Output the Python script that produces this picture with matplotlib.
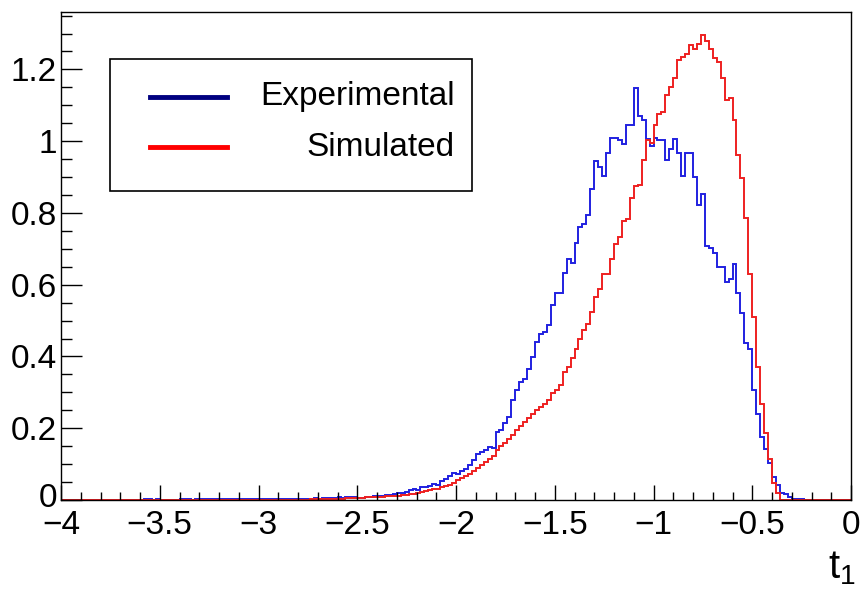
import matplotlib
matplotlib.use('Agg')
import matplotlib.pyplot as plt
import matplotlib.transforms as mtransforms
import numpy as np
from matplotlib.patches import Rectangle
from matplotlib.lines import Line2D
from matplotlib.ticker import MultipleLocator

plt.rcParams['font.family'] = ['Liberation Sans', 'DejaVu Sans']
plt.rcParams['mathtext.default'] = 'regular'

# histogram range: 200 bins of width 0.02 on [-4, 0]
x_lo, x_hi, n_bins = -4.0, 0.0, 200

# Experimental (blue), bins 0..199
experimental = [
    0, 0, 0, 0, 0, 0, 0, 0, 0, 0,
    0, 0, 0, 0, 0, 0, 0, 0, 0, 0.001,
    0.001, 0.002, 0.002, 0.001, 0.002, 0.001, 0.001, 0, 0.001, 0.001,
    0.002, 0.002, 0.002, 0.001, 0.002, 0.002, 0.002, 0.003, 0.003, 0.002,
    0.002, 0.003, 0.003, 0.003, 0.002, 0.002, 0.003, 0.003, 0.003, 0.003,
    0.002, 0.003, 0.002, 0.003, 0.003, 0.003, 0.003, 0.004, 0.004, 0.003,
    0.003, 0.004, 0.004, 0.004, 0.005, 0.004, 0.005, 0.006, 0.006, 0.006,
    0.007, 0.006, 0.008, 0.009, 0.008, 0.006, 0.006, 0.009, 0.009, 0.010,
    0.011, 0.011, 0.014, 0.014, 0.018, 0.020, 0.020, 0.021, 0.028, 0.032,
    0.029, 0.035, 0.035, 0.040, 0.045, 0.043, 0.052, 0.058, 0.066, 0.074,
    0.072, 0.082, 0.087, 0.097, 0.112, 0.128, 0.135, 0.140, 0.148, 0.145,
    0.190, 0.195, 0.215, 0.230, 0.280, 0.306, 0.330, 0.336, 0.364, 0.399,
    0.441, 0.464, 0.469, 0.487, 0.543, 0.577, 0.578, 0.633, 0.673, 0.661,
    0.715, 0.761, 0.769, 0.794, 0.867, 0.946, 0.929, 0.902, 0.966, 1.008,
    1.008, 1.003, 0.993, 1.045, 1.045, 1.149, 1.070, 1.060, 1.007, 0.987,
    1.010, 1.004, 1.004, 0.947, 0.978, 1.005, 0.966, 0.903, 0.966, 0.968,
    0.899, 0.822, 0.854, 0.708, 0.703, 0.689, 0.648, 0.648, 0.608, 0.615,
    0.659, 0.576, 0.520, 0.438, 0.422, 0.306, 0.241, 0.175, 0.141, 0.104,
    0.063, 0.041, 0.020, 0.016, 0.009, 0.003, 0.003, 0.002, 0.001, 0,
    0, 0, 0, 0, 0, 0, 0, 0, 0, 0,
]

# Simulated (red), bins 0..199
simulated = [
    0, 0, 0, 0, 0, 0, 0, 0, 0, 0,
    0, 0, 0, 0, 0, 0, 0, 0, 0, 0,
    0, 0, 0, 0, 0, 0, 0, 0, 0, 0,
    0, 0, 0, 0, 0, 0, 0, 0, 0, 0,
    0, 0, 0, 0, 0, 0, 0, 0, 0, 0,
    0, 0, 0, 0, 0, 0, 0, 0, 0, 0,
    0.001, 0.001, 0.001, 0.002, 0.002, 0.002, 0.003, 0.003, 0.003, 0.004,
    0.004, 0.004, 0.005, 0.005, 0.005, 0.006, 0.006, 0.007, 0.007, 0.008,
    0.008, 0.009, 0.010, 0.010, 0.011, 0.012, 0.013, 0.014, 0.016, 0.018,
    0.020, 0.022, 0.025, 0.028, 0.030, 0.032, 0.036, 0.040, 0.043, 0.047,
    0.055, 0.060, 0.066, 0.072, 0.080, 0.090, 0.097, 0.107, 0.115, 0.124,
    0.140, 0.150, 0.160, 0.170, 0.182, 0.195, 0.205, 0.217, 0.228, 0.240,
    0.250, 0.258, 0.268, 0.280, 0.298, 0.306, 0.320, 0.357, 0.370, 0.395,
    0.420, 0.450, 0.474, 0.490, 0.524, 0.566, 0.588, 0.630, 0.631, 0.672,
    0.713, 0.734, 0.778, 0.784, 0.843, 0.875, 0.878, 0.947, 1.003, 0.995,
    1.045, 1.077, 1.082, 1.130, 1.151, 1.175, 1.226, 1.235, 1.244, 1.267,
    1.258, 1.272, 1.297, 1.278, 1.258, 1.233, 1.221, 1.177, 1.114, 1.119,
    1.060, 0.961, 0.896, 0.787, 0.631, 0.511, 0.371, 0.267, 0.186, 0.113,
    0.048, 0.019, 0, 0, 0, 0, 0, 0, 0, 0,
    0, 0, 0, 0, 0, 0, 0, 0, 0, 0,
]

labels = ['Experimental', 'Simulated']
hist_colors = ['#2020e0', '#ee2020']
legend_colors = ['#000080', '#ff0000']

W, H = 865, 590
fig = plt.figure(figsize=(W / 100, H / 100), dpi=100)
ax = fig.add_axes([61 / W, 90 / H, 790 / W, 488 / H])

edges = np.linspace(x_lo, x_hi, n_bins + 1)
ax.stairs(experimental, edges, color=hist_colors[0], lw=1.4)
ax.stairs(simulated, edges, color=hist_colors[1], lw=1.4)

ax.set_xlim(x_lo, x_hi)
ax.set_ylim(0, 1.36)

ax.xaxis.set_major_locator(MultipleLocator(0.5))
ax.xaxis.set_minor_locator(MultipleLocator(0.1))
ax.yaxis.set_major_locator(MultipleLocator(0.2))
ax.yaxis.set_minor_locator(MultipleLocator(0.05))

ax.tick_params(axis='x', which='major', direction='in', length=11, width=1, pad=7.5)
ax.tick_params(axis='x', which='minor', direction='in', length=5.5, width=1)
ax.tick_params(axis='y', which='major', direction='in', length=15, width=1, pad=3)
ax.tick_params(axis='y', which='minor', direction='in', length=8, width=1)

ax.set_yticks([0, 0.2, 0.4, 0.6, 0.8, 1.0, 1.2])
ax.set_yticklabels(['0', '0.2', '0.4', '0.6', '0.8', '1', '1.2'], fontsize=24)
xt = [-4, -3.5, -3, -2.5, -2, -1.5, -1, -0.5, 0]
ax.set_xticks(xt)
ax.set_xticklabels(['\u2212' + f'{abs(v):g}' if v < 0 else f'{v:g}' for v in xt],
                   fontsize=24)

# the "0" on y sits right above "-4"; lift it a few pixels so they don't collide
lift = mtransforms.ScaledTranslation(0, 5 / 100, fig.dpi_scale_trans)
y0_label = ax.get_yticklabels()[0]
y0_label.set_transform(y0_label.get_transform() + lift)

for s in ax.spines.values():
    s.set_linewidth(1)

fig.text(856 / W, 1 - 578 / H, 't$_1$', fontsize=29, ha='right', va='baseline')

# legend box drawn in figure pixels
def fx(px):
    return px / W


def fy(py):
    return 1 - py / H


fig.patches.append(Rectangle((fx(110), fy(191)), fx(472) - fx(110), fy(59) - fy(191),
                             transform=fig.transFigure, fill=False, ec='black', lw=1.2))
for lab, col, ypx in zip(labels, legend_colors, [97, 147]):
    fig.lines.append(Line2D([fx(150), fx(227)], [fy(ypx), fy(ypx)],
                            transform=fig.transFigure, color=col, lw=3.5))
    fig.text(fx(455), fy(ypx), lab, fontsize=24, ha='right', va='center')

fig.savefig('out.png', dpi=100)
